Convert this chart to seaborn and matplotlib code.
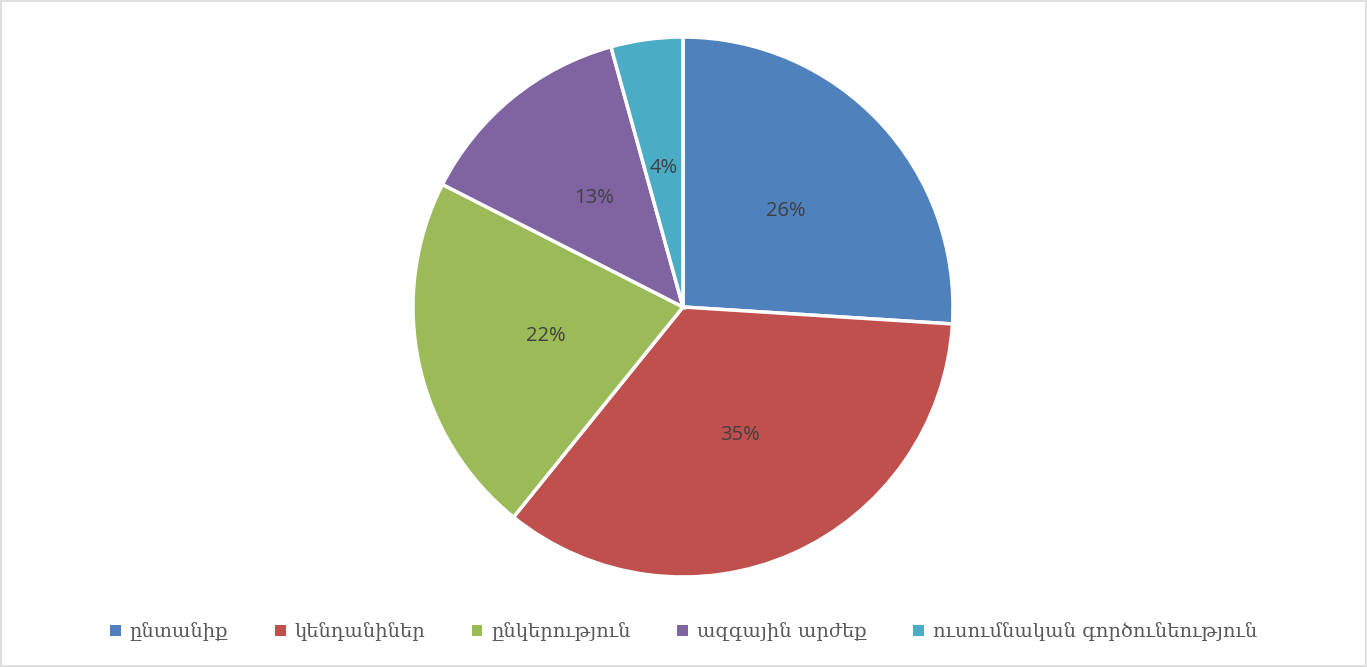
import matplotlib
matplotlib.use("Agg")
import matplotlib.pyplot as plt
import seaborn as sns
from matplotlib.patches import Rectangle

# ── Data ─────────────────────────────────────────────────────────────────────
categories = ["ընտանիք", "կենդանիներ", "ընկերություն", "ազգային արժեք",
              "ուսումնական գործունեություն"]
shares = [26.0, 34.8, 21.7, 13.2, 4.3]
colors = ["#4F81BD", "#C0504D", "#9BBB59", "#8064A2", "#4BACC6"]

sns.set_theme(style="white")
plt.rcParams["font.family"] = ["DejaVu Sans"]

fig = plt.figure(figsize=(13.67, 6.67), dpi=100)
fig.patch.set_facecolor("white")
fig.patches.append(Rectangle((0.001, 0.001), 0.998, 0.997, transform=fig.transFigure,
                             fill=False, edgecolor="#D9D9D9", linewidth=1.2))

ax = fig.add_axes([413 / 1367, 90 / 667, 540 / 1367, 540 / 667])
wedges, texts, autotexts = ax.pie(
    shares,
    colors=sns.color_palette(colors),
    startangle=90,
    counterclock=False,
    autopct="%1.0f%%",
    pctdistance=0.52,
    wedgeprops={"edgecolor": "white", "linewidth": 2.5},
    textprops={"fontsize": 14.5, "color": "#404040", "family": ["Open Sans", "DejaVu Sans"]},
)
ax.set_xlim(-1, 1)
ax.set_ylim(-1, 1)
ax.set_aspect("equal")

leg = fig.legend(
    wedges, categories,
    loc="center", bbox_to_anchor=(0.5, 1 - 632 / 667),
    ncol=5, frameon=False,
    handlelength=0.55, handleheight=0.55, handletextpad=0.45,
    columnspacing=2.4,
    prop={"family": ["DejaVu Serif", "DejaVu Sans"], "size": 14},
)
for t in leg.get_texts():
    t.set_color("#595959")
for h in leg.legend_handles:
    h.set_edgecolor("none")

fig.savefig("out.png", dpi=100, facecolor="white")
